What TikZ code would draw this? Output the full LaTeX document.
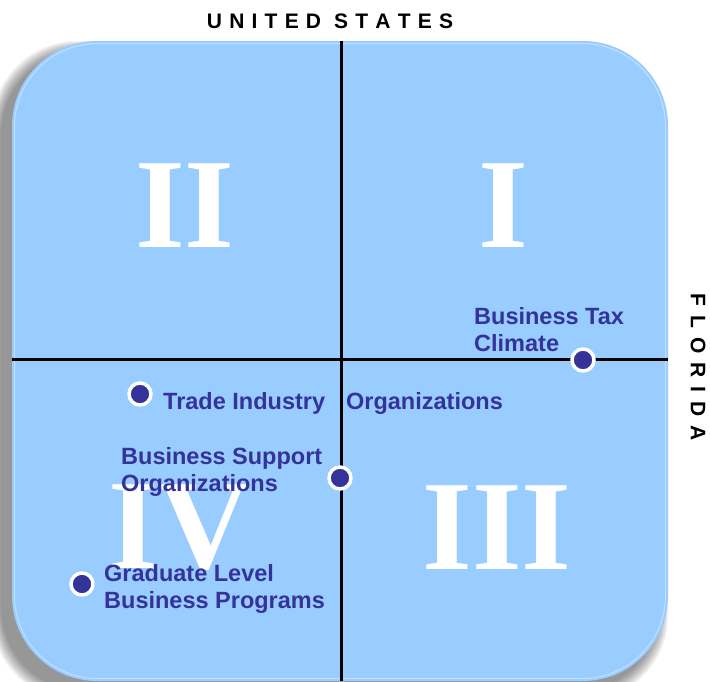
\documentclass[tikz,border=0pt]{standalone}
\usepackage{fontspec}
\setmainfont{Liberation Sans}
\newfontfamily\numfont{Liberation Serif}
\definecolor{boxblue}{RGB}{153,204,255}
\definecolor{navy}{RGB}{51,51,153}
\begin{document}
\begin{tikzpicture}[x=1pt,y=-1pt,
  lbl/.style={font=\fontsize{23.5}{27}\selectfont\bfseries, text=navy, align=left, inner sep=0pt, anchor=base west},
  dot/.style={circle, fill=navy, draw=white, line width=3.5pt, minimum size=22pt, inner sep=0pt},
  numeral/.style={font=\numfont\fontsize{128}{128}\selectfont\bfseries, text=white, inner sep=0pt},
  axisline/.style={line width=3pt, black},
  edgelabel/.style={font=\fontsize{21}{24}\selectfont\bfseries, text=black, inner sep=0pt}]
\useasboundingbox (0,0) rectangle (710,681);
% shadow
\foreach \i in {1,...,10}{
  \fill[black, opacity=0.05, rounded corners=85pt] (2-\i,51-\i) rectangle (658+\i,691+\i);
}
% box
\fill[boxblue, rounded corners=85pt] (12,41) rectangle (668,681);
\draw[white, opacity=0.4, line width=1pt, rounded corners=83pt] (14.5,43.5) rectangle (665.5,678.5);
% axes
\coordinate (vtop) at (341,41);
\coordinate (vbot) at (341,681);
\coordinate (hleft) at (12,359);
\coordinate (hright) at (668,359);
\draw[axisline] (vtop) -- (vbot);
\draw[axisline] (hleft) -- (hright);
% numerals
\node[numeral] (q2) at (185,206) {II};
\node[numeral] (q1) at (503,206) {I};
\node[numeral] (q3) at (497,528) {III};
\node[numeral] (q4) at (180,528) {IV};
% edge labels
\node[edgelabel, anchor=base] (us) at (330,28) {U\kern7.2pt N\kern7.2pt I\kern7.2pt T\kern7.2pt E\kern7.2pt D\kern7.2pt{} S\kern7.2pt T\kern7.2pt A\kern7.2pt T\kern7.2pt E\kern7.2pt S};
\node[edgelabel, rotate=-90] (fl) at (698,367) {F\kern9pt L\kern9pt O\kern9pt R\kern9pt I\kern9pt D\kern9pt A};
% labels (base anchor is the last line's baseline)
\node[lbl] (tax) at (474,351) {Business Tax\\Climate};
\node[lbl] (trade) at (163,409) {Trade Industry\hspace{21pt}Organizations};
\node[lbl] (support) at (121,491) {Business Support\\Organizations};
\node[lbl] (grad) at (104,608) {Graduate Level\\Business Programs};
% dots
\node[dot] (dtax) at (583,360) {};
\node[dot] (dtrade) at (140,394) {};
\node[dot] (dsupport) at (340,478) {};
\node[dot] (dgrad) at (82,584) {};
\end{tikzpicture}
\end{document}
